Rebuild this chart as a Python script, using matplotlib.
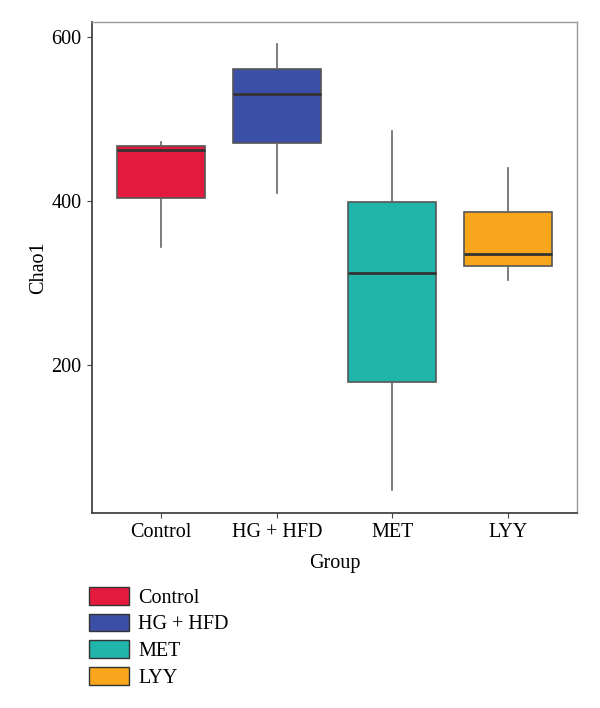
import matplotlib
matplotlib.use("Agg")
from matplotlib import pyplot as plt
from matplotlib.patches import Patch

# box summary values
groups = ["Control", "HG + HFD", "MET", "LYY"]
whis_low = [344, 410, 48, 304]
q1 = [403, 470, 179, 320]
median = [462, 530, 312, 335]
q3 = [467, 561, 399, 387]
whis_high = [472, 591, 485, 440]
colors = ["#E31A3E", "#3A4FA5", "#20B4AB", "#F9A61C"]

plt.rcParams["font.family"] = ["Liberation Serif", "DejaVu Serif"]

fig = plt.figure(figsize=(6, 7.08), dpi=100)
ax = fig.add_axes([0.153, 0.2754, 0.809, 0.6935])

stats = []
for i, g in enumerate(groups):
    stats.append({"label": g, "whislo": whis_low[i], "q1": q1[i], "med": median[i],
                  "q3": q3[i], "whishi": whis_high[i], "fliers": []})

bp = ax.bxp(stats, positions=range(len(groups)), widths=0.76, patch_artist=True,
            showcaps=False, showfliers=False,
            boxprops=dict(edgecolor="#555555", linewidth=1.2),
            medianprops=dict(color="#333333", linewidth=2),
            whiskerprops=dict(color="#666666", linewidth=1.2))
for box, c in zip(bp["boxes"], colors):
    box.set_facecolor(c)

ax.set_xlim(-0.6, 3.6)
ax.set_ylim(19.5, 618)
ax.set_yticks([200, 400, 600])
ax.set_xticks(range(len(groups)))
ax.set_xticklabels(groups)
ax.tick_params(labelsize=14.5, color="#444444", length=3.5, pad=4)

for s in ["left", "bottom"]:
    ax.spines[s].set_color("#444444")
    ax.spines[s].set_linewidth(1.3)
for s in ["top", "right"]:
    ax.spines[s].set_color("#999999")
    ax.spines[s].set_linewidth(1.0)

ax.set_xlabel("Group", fontsize=14.5, labelpad=8)
ax.set_ylabel("Chao1", fontsize=14.5, labelpad=2)

handles = [Patch(facecolor=c, edgecolor="#333333", label=g) for g, c in zip(groups, colors)]
fig.legend(handles=handles, loc="upper left", bbox_to_anchor=(0.135, 0.182), frameon=False,
           fontsize=14.5, handlelength=2.0, handleheight=0.95, labelspacing=0.3,
           handletextpad=0.45, borderaxespad=0)

fig.savefig("out.png", dpi=100)
